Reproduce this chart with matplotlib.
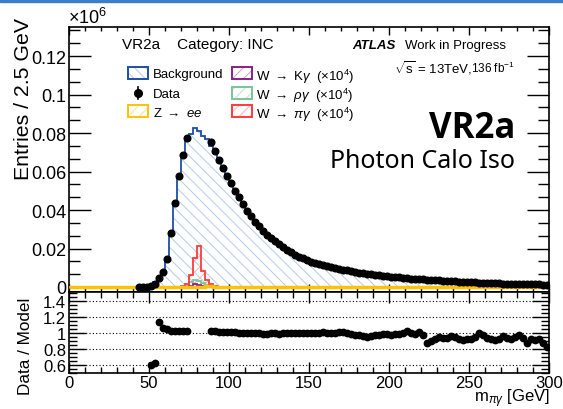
import numpy as np
import matplotlib
matplotlib.use("Agg")
import matplotlib.pyplot as plt
from matplotlib.patches import Rectangle
from matplotlib.lines import Line2D
from matplotlib.ticker import MultipleLocator, FuncFormatter

plt.rcParams['font.family'] = ['Liberation Sans', 'DejaVu Sans']
plt.rcParams['mathtext.fontset'] = 'custom'
plt.rcParams['mathtext.rm'] = 'Liberation Sans'
plt.rcParams['mathtext.it'] = 'Liberation Sans:italic'
plt.rcParams['mathtext.bf'] = 'Liberation Sans:bold'
plt.rcParams['hatch.linewidth'] = 0.7

# ---------------- data (units of 10^6 entries, 2.5 GeV bins) ----------------
bin_width = 2.5
mass_range = (0.0, 300.0)

data_mass_pre = [43.75, 46.25, 48.75, 51.25, 53.75, 56.25, 58.75, 61.25, 63.75,
                 66.25, 68.75, 71.25, 73.75]
data_pre = [0.0, 0.0, 0.0002, 0.0006, 0.0015, 0.0045, 0.0077, 0.0147, 0.028,
            0.0438, 0.0575, 0.0687, 0.0776]

data_post_start = 88.75
data_post = [0.0752, 0.0708, 0.0661, 0.0617, 0.0578, 0.054, 0.0501, 0.0466, 0.0431,
             0.0396, 0.0367, 0.034, 0.0315, 0.0292, 0.0272, 0.0255, 0.0237, 0.0222,
             0.0206, 0.0192, 0.018, 0.0168, 0.0157, 0.0149, 0.014, 0.0131,
             0.0127, 0.0120, 0.0114, 0.0108, 0.0103, 0.0098, 0.0094, 0.0090, 0.0086,
             0.0082, 0.0078, 0.0075, 0.0072, 0.0069, 0.0066, 0.0063, 0.0061, 0.0058,
             0.0056, 0.0054, 0.0052, 0.0050, 0.0048, 0.0046, 0.0044, 0.0043, 0.0041,
             0.0039, 0.0037, 0.0036, 0.0035, 0.0034, 0.0033, 0.0031, 0.0030, 0.0029,
             0.0028, 0.0027, 0.0026, 0.0025, 0.0024, 0.0023, 0.0022, 0.0021, 0.0021,
             0.0020, 0.0019, 0.0018, 0.0018, 0.0017, 0.0016, 0.0016, 0.0015, 0.0014,
             0.0014, 0.0013, 0.0013, 0.0012, 0.0012]

ratio_mass_pre = [51.25, 53.75, 56.25, 58.75, 61.25, 63.75, 66.25, 68.75, 71.25, 73.75]
ratio_pre = [0.60, 0.63, 1.14, 1.06, 1.045, 1.03, 1.02, 1.02, 1.02, 1.02]

ratio_post = [1.025, 1.02, 1.015, 1.012, 1.01, 1.01, 1.008, 1.005, 1.005, 1.0,
              1.0, 0.998, 0.995, 0.99, 0.992, 0.995, 1.0, 0.985, 0.998, 1.0,
              1.0, 1.0, 1.0, 1.0, 0.998, 0.995, 0.998, 1.0, 1.01, 1.0,
              1.005, 0.995, 1.01, 1.015, 1.0, 0.99, 0.98, 0.97, 0.96, 0.955,
              0.965, 0.975, 0.98, 0.99, 0.985, 0.975, 0.985, 0.99, 0.995, 1.02,
              1.0, 0.99, 1.01, 0.97, 0.87, 0.90, 0.93, 0.95, 0.935, 0.94,
              0.965, 0.95, 0.93, 0.91, 0.93, 0.92, 0.95, 1.0, 0.98, 0.94,
              0.93, 0.91, 0.93, 0.96, 0.94, 0.92, 0.95, 0.98, 0.94, 0.88,
              0.93, 0.91, 0.93, 0.87, 0.83]

# background model where no data ratio is available (rising edge + blinded window)
bkg_mass_low = [48.75, 51.25, 53.75, 56.25, 58.75, 61.25, 63.75, 66.25, 68.75,
                71.25, 73.75, 76.25, 78.75, 81.25, 83.75, 86.25]
bkg_low = [0.0003, 0.001, 0.0024, 0.0039, 0.0071, 0.014, 0.0272, 0.043, 0.0564,
           0.0673, 0.076, 0.0797, 0.0825, 0.081, 0.0785, 0.0768]

# signals (x 10^4)
sig_mass = [71.25, 73.75, 76.25, 78.75, 81.25, 83.75, 86.25, 88.75, 91.25, 93.75,
            96.25, 98.75]
sig_pi = [0.0004, 0.0018, 0.006, 0.015, 0.0212, 0.0085, 0.0035, 0.0013, 0.0005,
          0.0002, 0.0001, 0.0]
sig_rho = [0.0002, 0.0008, 0.0028, 0.0036, 0.0033, 0.0021, 0.0011, 0.0006, 0.0003,
           0.0002, 0.0001, 0.0]
sig_K = [0.0, 0.0002, 0.0006, 0.0015, 0.0012, 0.0005, 0.0002, 0.0001, 0.0, 0.0,
         0.0, 0.0]
zee = [0.0, 0.0, 0.0, 0.0001, 0.0001, 0.0002, 0.0003, 0.0003, 0.0002, 0.0001,
       0.0, 0.0]

# ---------------- derived arrays ----------------
edges = np.arange(mass_range[0], mass_range[1] + bin_width / 2, bin_width)
centers = 0.5 * (edges[:-1] + edges[1:])
nb = len(centers)

def to_index(m):
    return int(round((m - mass_range[0]) / bin_width - 0.5))

data_mass_post = data_post_start + bin_width * np.arange(len(data_post))
bkg = np.zeros(nb)
for m, v in zip(bkg_mass_low, bkg_low):
    bkg[to_index(m)] = v
for m, d, r in zip(data_mass_post, data_post, ratio_post):
    bkg[to_index(m)] = d / r

def full(vals):
    a = np.zeros(nb)
    for m, v in zip(sig_mass, vals):
        a[to_index(m)] = v
    return a

# ---------------- figure ----------------
W, H = 563, 410
fig = plt.figure(figsize=(W / 100, H / 100), dpi=100)
fig.patches.append(Rectangle((0, 1 - 3 / H), 1, 3 / H, transform=fig.transFigure,
                             color='#3d7cc9', zorder=10))

L, R = 69, 549
T_main, B_main, B_ratio = 28, 293, 374
ax = fig.add_axes([L / W, 1 - B_main / H, (R - L) / W, (B_main - T_main) / H])
rax = fig.add_axes([L / W, 1 - B_ratio / H, (R - L) / W, (B_ratio - B_main) / H])

bg_dark = '#1d4fa5'
bg_light = '#b3cbe8'
cols = {
    'pi': ('#ff3b3b', '#ffb0b0'),
    'rho': ('#7cc49a', '#bfe3cc'),
    'K': ('#8a1f8a', '#c8a0c8'),
    'zee': ('#ffc107', '#ffe08a'),
}

hb = '\\\\\\'
hs = '///'
ax.stairs(bkg, edges, fill=True, facecolor='none', edgecolor=bg_light, hatch=hb,
          linewidth=0, zorder=1)
ax.stairs(bkg, edges, color=bg_dark, linewidth=1.3, zorder=2)

for key, vals in (('rho', sig_rho), ('K', sig_K), ('pi', sig_pi)):
    dark, light = cols[key]
    arr = full(vals)
    ax.stairs(arr, edges, fill=True, facecolor='none', edgecolor=light, hatch=hs,
              linewidth=0, zorder=3)
    ax.stairs(arr, edges, color=dark, linewidth=1.3, zorder=4)

ax.stairs(full(zee), edges, color=cols['zee'][0], linewidth=2.5, zorder=5,
          baseline=None)

ms_main = 4.8
ax.plot(data_mass_pre, data_pre, 'o', color='black', ms=ms_main, zorder=6)
ax.plot(data_mass_post, data_post, 'o', color='black', ms=ms_main, zorder=6)

ax.set_xlim(*mass_range)
ax.set_ylim(-0.0026, 0.1351)

# ratio panel
rax.plot(ratio_mass_pre, ratio_pre, 'o', color='black', ms=4.6, zorder=6)
rax.plot(data_mass_post, ratio_post, 'o', color='black', ms=4.6, zorder=6)
for yv in (0.6, 0.8, 1.0, 1.2, 1.4):
    rax.axhline(yv, color='black', linestyle=(0, (1, 2)), linewidth=0.8, zorder=1)
rax.set_xlim(*mass_range)
rax.set_ylim(0.5, 1.5125)

# ticks
fmt = FuncFormatter(lambda v, p: ('%g' % round(v, 4)))
for a in (ax, rax):
    a.xaxis.set_major_locator(MultipleLocator(50))
    a.xaxis.set_minor_locator(MultipleLocator(10))
    a.tick_params(which='both', direction='in', top=True, right=True, width=1.0)
    for s in a.spines.values():
        s.set_linewidth(1.2)
ax.yaxis.set_major_locator(MultipleLocator(0.02))
ax.yaxis.set_minor_locator(MultipleLocator(0.02 / 3))
ax.yaxis.set_major_formatter(fmt)
ax.tick_params(axis='y', which='major', length=16, labelsize=13, pad=2)
ax.tick_params(axis='y', which='minor', length=8)
ax.tick_params(axis='x', which='major', length=6, labelbottom=False)
ax.tick_params(axis='x', which='minor', length=3)

rax.yaxis.set_major_locator(MultipleLocator(0.2))
rax.yaxis.set_minor_locator(MultipleLocator(0.05))
rax.yaxis.set_major_formatter(fmt)
rax.xaxis.set_major_formatter(fmt)
rax.tick_params(axis='y', which='major', length=12, labelsize=12, pad=2)
rax.tick_params(axis='y', which='minor', length=6)
rax.tick_params(axis='x', which='major', length=8, labelsize=12, pad=1.5)
rax.tick_params(axis='x', which='minor', length=4)

def ftext(x, y, s, **kw):
    return fig.text(x / W, 1 - y / H, s, **kw)

# axis titles (ROOT style: aligned to the top / right end)
ftext(33, 18, 'Entries / 2.5 GeV', fontsize=15.3, rotation=90, ha='right',
      va='bottom', rotation_mode='anchor')
ftext(33, 298, 'Data / Model', fontsize=12.3, rotation=90, ha='right', va='bottom',
      rotation_mode='anchor')
ftext(68, 24, r'$\times$10$^{6}$', fontsize=13)
ftext(550, 402, r'm$_{\pi\gamma}$ [GeV]', fontsize=12, ha='right')

ftext(122, 49, 'VR2a    Category: INC', fontsize=11)
ftext(352, 49, 'ATLAS', fontsize=9.5, fontweight='bold', fontstyle='italic')
ftext(405, 49, 'Work in Progress', fontsize=9.5)
ftext(394, 74, r'$\sqrt{\mathrm{s}}$ = 13TeV,', fontsize=9.5)
ftext(471, 73, r'136 fb$^{-1}$', fontsize=8.5)
ftext(515, 138, 'VR2a', fontsize=25, fontweight='bold', ha='right',
      family=['Open Sans', 'DejaVu Sans'])
ftext(515, 168, 'Photon Calo Iso', fontsize=18, ha='right',
      family=['Noto Sans', 'DejaVu Sans'])

# legend drawn in figure pixels
def fig_box(x0, yc, key_dark, key_light, hatch):
    w, h = 20, 12
    fig.patches.append(Rectangle((x0 / W, 1 - (yc + h / 2) / H), w / W, h / H,
                                 transform=fig.transFigure, facecolor='none',
                                 edgecolor=key_light, hatch=hatch, linewidth=0))
    fig.patches.append(Rectangle((x0 / W, 1 - (yc + h / 2) / H), w / W, h / H,
                                 transform=fig.transFigure, facecolor='none',
                                 edgecolor=key_dark, linewidth=1.4))

rows = [74, 93.5, 112]
c1, c2 = 128, 232
fig_box(c1, rows[0], bg_dark, bg_light, hb)
fig.lines.append(Line2D([(c1 + 10) / W] * 2, [1 - (rows[1] - 6) / H, 1 - (rows[1] + 6) / H],
                        transform=fig.transFigure, color='black', lw=1.2))
fig.lines.append(Line2D([(c1 + 10) / W], [1 - rows[1] / H], transform=fig.transFigure,
                        marker='o', color='black', ms=5.5, linestyle='none'))
fig_box(c1, rows[2], cols['zee'][0], cols['zee'][1], hs)
fig_box(c2, rows[0], cols['K'][0], cols['K'][1], hs)
fig_box(c2, rows[1], cols['rho'][0], cols['rho'][1], hs)
fig_box(c2, rows[2], cols['pi'][0], cols['pi'][1], hs)

lab_kw = dict(fontsize=9.5, va='center_baseline')
ftext(c1 + 25, rows[0], 'Background', **lab_kw)
ftext(c1 + 25, rows[1], 'Data', **lab_kw)
ftext(c1 + 25, rows[2], r'Z $\rightarrow$ $ee$', **lab_kw)
ftext(c2 + 24, rows[0], r'W $\rightarrow$ K$\gamma$  ($\times$10$^{4}$)', **lab_kw)
ftext(c2 + 24, rows[1], r'W $\rightarrow$ $\rho\gamma$  ($\times$10$^{4}$)', **lab_kw)
ftext(c2 + 24, rows[2], r'W $\rightarrow$ $\pi\gamma$  ($\times$10$^{4}$)', **lab_kw)

fig.savefig('out.png', dpi=100)
